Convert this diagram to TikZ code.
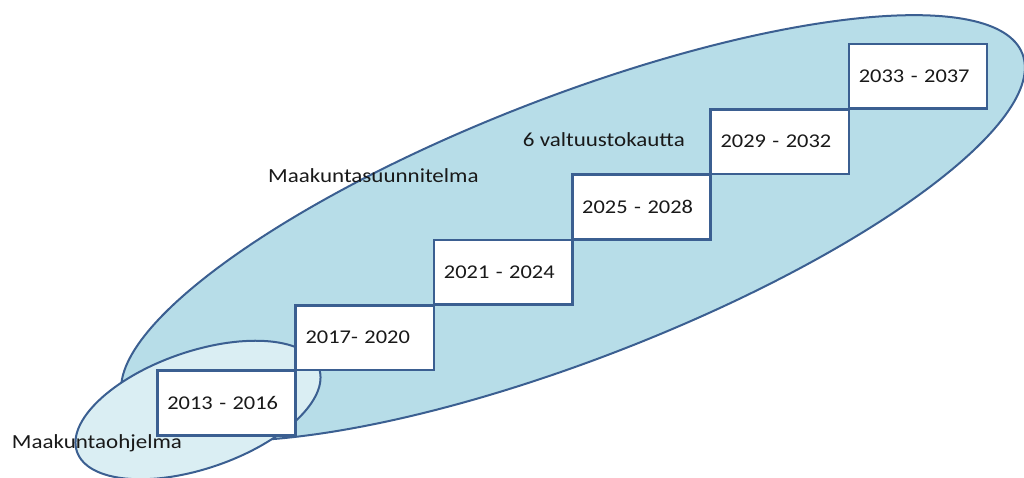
\documentclass[tikz,border=0pt]{standalone}
\usepackage{fontspec}
\setmainfont{Carlito}[FakeStretch=1.15]
\definecolor{edge}{RGB}{59,95,145}
\definecolor{bigfill}{RGB}{183,221,232}
\definecolor{smallfill}{RGB}{218,238,243}
\definecolor{txt}{RGB}{25,25,25}
\tikzset{
  yearbox/.style={draw=edge, line width=2.6pt, fill=white, minimum width=138.3pt,
    minimum height=64.6pt, inner xsep=10pt, inner ysep=0pt, text width=118.3pt, align=left,
    anchor=north west, text=txt, font=\fontsize{19.5}{23}\selectfont},
  lbl/.style={anchor=base west, inner sep=0pt, text=txt, font=\fontsize{20}{24}\selectfont},
  ell/.style={draw=edge, line width=2pt}
}
\begin{document}
\begin{tikzpicture}[x=1pt,y=-1pt]
\useasboundingbox (0,0) rectangle (1024,478);
% big ellipse
\begin{scope}[shift={(573,228)}, rotate=21.2]
  \draw[ell, fill=bigfill] (0,0) ellipse [x radius=482, y radius=131];
\end{scope}
% small ellipse
\begin{scope}[shift={(198,410)}, rotate=19]
  \draw[ell, fill=smallfill] (0,0) ellipse [x radius=128, y radius=58.5];
\end{scope}
% boxes
\node[yearbox] (b1) at (156,369.3) {2013 - 2016};
\node[yearbox] (b2) at (294.3,304.0) {2017- 2020};
\node[yearbox] (b3) at (432.6,238.7) {2021 - 2024};
\node[yearbox] (b4) at (570.9,173.4) {2025 - 2028};
\node[yearbox] (b5) at (709.2,108.0) {2029 - 2032};
\node[yearbox] (b6) at (847.5,42.7) {2033 - 2037};
% labels
\node[lbl] (suunn) at (268,183) {Maakuntasuunnitelma};
\node[lbl] (valt) at (522.7,146.7) {6 valtuustokautta};
\node[lbl] (ohj) at (11.7,448) {Maakuntaohjelma};
\end{tikzpicture}
\end{document}
